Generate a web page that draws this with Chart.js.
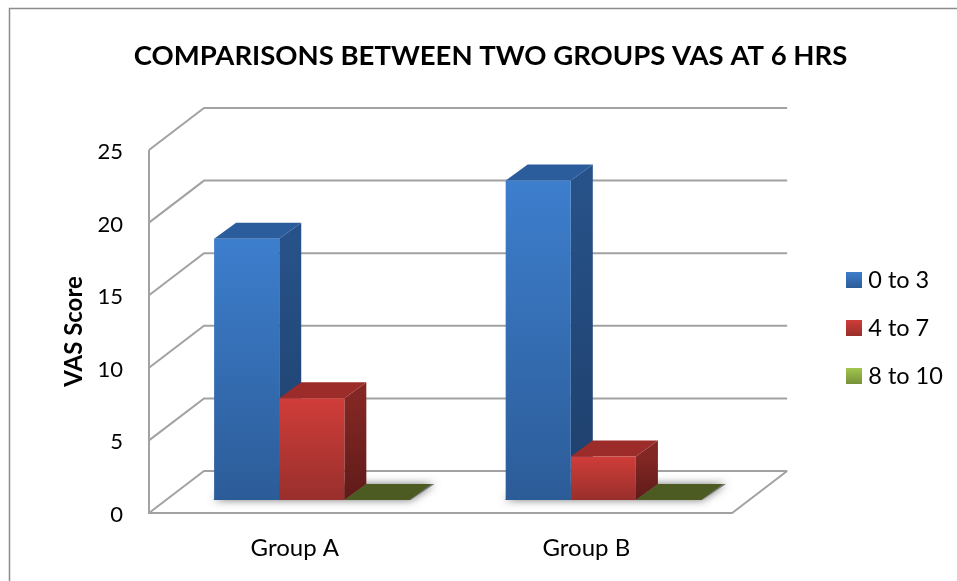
<!DOCTYPE html>
<html>
<head>
<meta charset="utf-8">
<style>
  body { margin: 0; background: #fff; }
</style>
<script src="https://cdn.jsdelivr.net/npm/chart.js@4/dist/chart.umd.min.js"></script>
</head>
<body>
<canvas id="myChart" width="957" height="581"></canvas>
<script>
const categories = ['Group A', 'Group B'];
const seriesNames = ['0 to 3', '4 to 7', '8 to 10'];
const low = [18, 22];
const mid = [7, 3];
const high = [0, 0];

// colours: front top, front bottom, top face, side top, side bottom, legend top, legend bottom
const blue = ['#3d7ecd', '#2c5c98', '#2b5c9b', '#275289', '#1e3f6b', '#3d7ecd', '#2c5c98'];
const red = ['#d03d39', '#982f2c', '#9c2c29', '#832724', '#5f1b19', '#d03d39', '#982f2c'];
const green = ['#4b5b22', '#4b5b22', '#4b5b22', '#4b5b22', '#4b5b22', '#a2c64e', '#76923a'];

const wallDx = 55, wallDy = -42;   // back wall offset
const barDx = 22, barDy = -16;     // bar depth
const shiftX = 17, shiftY = -13;   // bars stand inside the floor
const gridColor = '#a2a2a2';

function frontFill(colors) {
  return function (c) {
    const chart = c.chart;
    if (!chart.chartArea || c.raw === undefined) return colors[0];
    const y = chart.scales.y;
    const g = chart.ctx.createLinearGradient(0, y.getPixelForValue(c.raw), 0, y.getPixelForValue(0));
    g.addColorStop(0, colors[0]);
    g.addColorStop(1, colors[1]);
    return g;
  };
}

function swatch(colors) {
  const cv = document.createElement('canvas');
  cv.width = 16;
  cv.height = 16;
  const x = cv.getContext('2d');
  const g = x.createLinearGradient(0, 0, 0, 16);
  g.addColorStop(0, colors[5]);
  g.addColorStop(1, colors[6]);
  x.fillStyle = g;
  x.fillRect(0, 0, 16, 16);
  return cv;
}

function poly(ctx, pts) {
  ctx.beginPath();
  pts.forEach(function (p, i) {
    if (i == 0) ctx.moveTo(p[0], p[1]);
    else ctx.lineTo(p[0], p[1]);
  });
  ctx.closePath();
}

// frame, moved boxes
const placeBoxes = {
  id: 'placeBoxes',
  beforeDraw(chart) {
    const ctx = chart.ctx;
    const legend = chart.legend;
    legend.left = 826;
    legend.right = 957;
    legend.top = 243.75;
    legend.bottom = 560;
    if (!chart.titleBlock.moved) {
      chart.titleBlock.left += 31;
      chart.titleBlock.right += 31;
      chart.titleBlock.moved = true;
    }
    ctx.save();
    ctx.strokeStyle = '#8c8c8c';
    ctx.lineWidth = 1.5;
    ctx.beginPath();
    ctx.moveTo(9.5, 581);
    ctx.lineTo(9.5, 8.5);
    ctx.lineTo(957, 8.5);
    ctx.stroke();
    ctx.restore();
  }
};

// walls + floor from the y scale
const walls = {
  id: 'walls',
  beforeDatasetsDraw(chart) {
    const ctx = chart.ctx;
    const area = chart.chartArea;
    const y = chart.scales.y;
    ctx.save();
    ctx.strokeStyle = gridColor;
    ctx.lineWidth = 2;
    y.ticks.forEach(function (t) {
      const py = y.getPixelForValue(t.value);
      ctx.beginPath();
      ctx.moveTo(area.left, py);
      ctx.lineTo(area.left + wallDx, py + wallDy);
      ctx.lineTo(area.right + wallDx, py + wallDy);
      ctx.stroke();
    });
    ctx.beginPath();
    ctx.moveTo(area.left, area.top);
    ctx.lineTo(area.left, area.bottom);
    ctx.lineTo(area.right, area.bottom);
    ctx.lineTo(area.right + wallDx, area.bottom + wallDy);
    ctx.stroke();
    ctx.restore();
  }
};

// sides, tops and shadow of the bars, bars get moved back from the front plane
const bars3d = {
  id: 'bars3d',
  beforeDatasetsDraw(chart) {
    const ctx = chart.ctx;
    const faces = [blue, red, green];
    ctx.save();
    ctx.translate(shiftX, shiftY);

    // floor shadow under each group
    const first = chart.getDatasetMeta(0).data;
    const last = chart.getDatasetMeta(2).data;
    first.forEach(function (b, i) {
      const l = b.x - b.width / 2;
      const r = last[i].x + last[i].width / 2;
      const base = b.base;
      ctx.save();
      ctx.shadowColor = 'rgba(70,70,70,0.75)';
      ctx.shadowBlur = 8;
      ctx.fillStyle = '#777';
      poly(ctx, [[l - 1, base], [r + 1, base], [r + barDx + 3, base + barDy], [l + barDx, base + barDy]]);
      ctx.fill();
      ctx.restore();
    });

    faces.forEach(function (colors, d) {
      chart.getDatasetMeta(d).data.forEach(function (b) {
        const l = b.x - b.width / 2;
        const r = b.x + b.width / 2;
        if (b.base - b.y > 0) {
          const g = ctx.createLinearGradient(0, b.y, 0, b.base);
          g.addColorStop(0, colors[3]);
          g.addColorStop(1, colors[4]);
          ctx.fillStyle = g;
          poly(ctx, [[r, b.y], [r + barDx, b.y + barDy], [r + barDx, b.base + barDy], [r, b.base]]);
          ctx.fill();
        }
        ctx.fillStyle = colors[2];
        poly(ctx, [[l, b.y], [r, b.y], [r + barDx, b.y + barDy], [l + barDx, b.y + barDy]]);
        ctx.fill();
      });
    });
  },
  afterDatasetsDraw(chart) {
    chart.ctx.restore();
  }
};

new Chart(document.getElementById('myChart'), {
  type: 'bar',
  data: {
    labels: categories,
    datasets: [
      { label: seriesNames[0], data: low, backgroundColor: frontFill(blue) },
      { label: seriesNames[1], data: mid, backgroundColor: frontFill(red) },
      { label: seriesNames[2], data: high, backgroundColor: frontFill(green) }
    ]
  },
  plugins: [placeBoxes, walls, bars3d],
  options: {
    responsive: false,
    animation: false,
    categoryPercentage: 0.67,
    barPercentage: 1,
    layout: { padding: { left: 60, right: 98, top: 40, bottom: 10 } },
    font: { family: 'Lato' },
    scales: {
      x: {
        grid: { display: false },
        border: { display: false },
        ticks: { color: '#000', font: { family: 'Lato', size: 24 }, padding: 13, maxRotation: 0 },
        afterFit(scale) { scale.height = 58; }
      },
      y: {
        min: 0,
        max: 25,
        grid: { display: false, drawTicks: false },
        border: { display: false },
        ticks: { stepSize: 5, color: '#000', font: { family: 'Lato', size: 22 }, padding: 26, labelOffset: 2 },
        title: {
          display: true,
          text: 'VAS Score',
          color: '#000',
          font: { family: 'Lato', size: 24, weight: 'bold' },
          padding: 0
        },
        afterFit(scale) { scale.width = 89; }
      }
    },
    plugins: {
      tooltip: { enabled: false },
      title: {
        display: true,
        text: 'COMPARISONS BETWEEN TWO GROUPS VAS AT 6 HRS',
        color: '#000',
        font: { family: 'Lato', size: 27.5, weight: 'bold' },
        padding: { top: 0, bottom: 77 }
      },
      legend: {
        position: 'right',
        align: 'start',
        labels: {
          usePointStyle: true,
          pointStyleWidth: 6,
          padding: 24.5,
          color: '#000',
          font: { family: 'Lato', size: 23.5 },
          generateLabels() {
            return seriesNames.map(function (name, i) {
              return {
                text: name,
                pointStyle: swatch([blue, red, green][i]),
                datasetIndex: i,
                lineWidth: 0,
                strokeStyle: 'transparent',
                fontColor: '#000'
              };
            });
          }
        }
      }
    }
  }
});
</script>
</body>
</html>
